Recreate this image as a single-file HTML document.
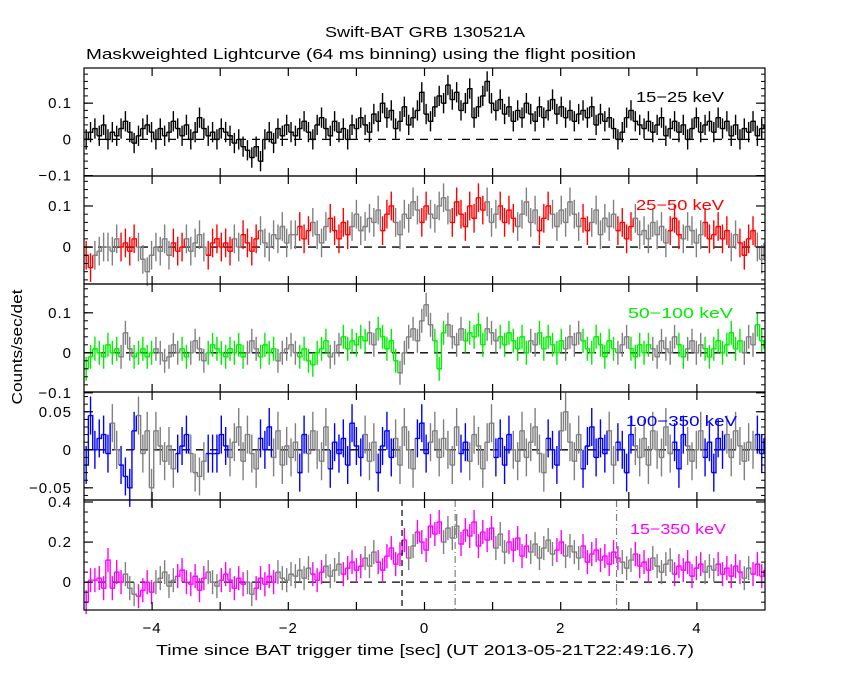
<!DOCTYPE html>
<html><head><meta charset="utf-8">
<style>
body{margin:0;background:#fff;}
svg text{font-family:"Liberation Sans","DejaVu Sans",sans-serif;}
</style></head>
<body>
<svg id="chart" width="850" height="680" viewBox="0 0 850 680" xmlns="http://www.w3.org/2000/svg">
<rect width="850" height="680" fill="#fff"/>
<text x="325" y="37" font-size="15" textLength="200" lengthAdjust="spacingAndGlyphs">Swift-BAT GRB 130521A</text>
<text x="86" y="59" font-size="15" textLength="550" lengthAdjust="spacingAndGlyphs">Maskweighted Lightcurve (64 ms binning) using the flight position</text>
<text x="156" y="655" font-size="15" textLength="538" lengthAdjust="spacingAndGlyphs">Time since BAT trigger time [sec] (UT 2013-05-21T22:49:16.7)</text>
<text x="0" y="0" font-size="15" text-anchor="middle" textLength="115" lengthAdjust="spacingAndGlyphs" transform="translate(22,347) rotate(-90)">Counts/sec/det</text>
<g id="plots"></g>
</svg>
<script>
const binStart = -5.0, binWidth = 0.064;
const bandNames = ["15-25 keV","25-50 keV","50-100 keV","100-350 keV","15-350 keV"];
const p1 = [0,2,3,1,4,0,2,1,3,5,2,-1,1,3,4,2, 0,3,1,2,5,3,1,4,0,2,6,3,1,2,0,3, 2,1,-1,0,-2,-3,-5,-2,-6,0,2,-1,3,1,4,2, 1,3,5,2,0,4,6,3,1,5,2,3,0,4,3,6, 4,2,7,5,10,6,8,3,5,9,4,6,8,13,7,5, 9,12,10,15,11,13,8,10,14,6,9,12,16,10,8,11, 7,9,5,8,6,10,7,5,9,6,8,11,7,9,6,8, 5,7,8,6,9,4,7,5,6,3,0,2,6,8,5,4, 3,5,2,4,6,1,3,5,2,4,0,3,6,2,4,5, 2,6,3,5,1,4,0,3,2,5,1,3,4,2,5,3].map(v=>v/100);
const p2 = [-2,-5,-2,-1,0,0,-1,2,0,1,-1,2,0,-3,-6,-2, 0,-1,2,-2,1,-1,0,2,-1,1,3,0,-2,1,2,0, 1,-1,2,0,3,1,-1,2,4,1,0,3,2,5,1,3, 3,5,2,4,6,3,1,5,7,4,2,6,3,5,8,4, 5,7,6,9,4,8,10,6,3,8,7,11,9,6,10,8, 7,10,12,9,6,11,8,5,10,7,12,9,11,6,8,10, 6,9,7,5,8,11,6,9,4,7,10,8,5,9,6,11, 8,5,7,4,6,9,3,7,5,8,4,6,2,5,7,3, 4,2,6,3,5,1,4,7,3,2,5,4,1,3,6,2, 3,5,2,4,0,3,1,-2,2,4,0,-3,1,-1,2,0].map(v=>v/100);
const p3 = [-4,-1,1,0,-1,2,0,1,-1,5,1,-1,0,1,-1,0, 1,0,-2,-1,2,0,1,-1,0,3,1,-2,0,2,1,0, -1,1,0,2,-1,0,3,1,-1,2,0,1,-2,0,1,2, 0,-1,1,-2,-3,0,1,3,-1,0,2,4,1,3,2,4, 3,5,2,6,4,1,3,-2,-5,0,4,6,3,8,12,7, 3,-4,5,7,4,2,6,3,5,4,7,2,6,5,3,4, 2,5,3,1,4,0,3,2,5,1,4,2,0,3,1,4, 2,5,3,1,0,4,2,-1,3,1,0,2,4,1,-1,2, 0,2,1,-1,3,1,0,4,2,-1,1,3,0,2,1,-1, 1,3,0,2,5,1,3,0,4,2,7,3,1,0,2,-1].map(v=>v/100);
const p4 = [-20,45,0,15,20,-5,35,0,-20,-35,-50,25,45,-5,25,-50, 25,5,-15,5,-25,-5,5,20,-5,-30,-35,-15,-5,-5,-5,20, 5,-10,10,30,-15,20,-5,-25,15,0,30,-10,25,-20,5,-10, 10,-30,20,-5,25,0,-15,30,-25,10,-5,15,-20,35,5,-10, 20,-15,10,-30,5,25,-10,15,-20,30,0,-25,15,35,-5,10, 25,-10,15,0,-20,30,-5,10,-15,20,5,-25,10,35,-10,15, -20,20,0,-15,25,-10,10,30,-5,-30,15,0,-20,25,50,10, -15,20,-25,5,30,-10,15,-5,25,-20,10,0,-30,20,5,-10, 15,-20,25,0,-10,30,-5,10,-25,20,5,-15,0,25,-10,10, -30,15,0,20,-10,25,5,-15,10,0,20,-5,15,5,-10,10].map(v=>v/1000);
const p5 = [-10,1,1,2,-3,11,-3,5,0,4,-3,-6,-7,-4,0,-5, 0,2,5,-2,1,3,6,0,-1,3,-4,2,5,0,-2,1, 4,1,-3,2,-1,0,-6,-3,2,-1,3,0,5,2,1,4, 3,6,2,7,4,1,5,8,3,6,9,4,7,10,6,8, 12,8,15,10,6,13,17,9,14,21,12,18,25,20,16,28, 24,30,20,27,22,28,19,26,23,30,18,25,21,27,17,24, 15,20,16,22,13,18,15,19,12,17,21,14,16,20,13,18, 15,12,18,10,14,16,11,13,9,15,12,10,7,11,14,8, 10,6,12,8,5,9,11,4,8,6,10,3,7,9,5,8, 6,9,4,7,3,8,5,2,7,4,9,3,6,8,2,5].map(v=>v/100);
const errs = [0.028,0.035,0.03,0.025,0.06];
const yTickVals = [[-0.1,0,0.1],[0,0.1],[-0.1,0,0.1],[-0.05,0,0.05],[0,0.2,0.4]];
const yTickLabels = [["\u22120.1","0","0.1"],["0","0.1"],["\u22120.1","0","0.1"],["\u22120.05","0","0.05"],["0","0.2","0.4"]];
const xTickVals = [-4,-2,0,2,4];
const xTickLabels = ["\u22124","\u22122","0","2","4"];
const markerTimes = [-0.33,0.45,2.82];
const series = [p1,p2,p3,p4,p5];

const X0=84, X1=765, tMin=-5, tMax=5;
const xs = t => X0 + (t-tMin)/(tMax-tMin)*(X1-X0);
const panels = [
 {top:68,bot:176,ymin:-0.101,ymax:0.197,color:"#000000",minor:0.02,lx:636,ly:102,lw:88},
 {top:176,bot:284,ymin:-0.09,ymax:0.173,color:"#ff0000",minor:0.02,lx:636,ly:210,lw:88},
 {top:284,bot:392,ymin:-0.098,ymax:0.172,color:"#00ee00",minor:0.02,lx:628,ly:318,lw:105},
 {top:392,bot:500,ymin:-0.066,ymax:0.076,color:"#0000ff",minor:0.01,lx:626,ly:426,lw:111},
 {top:500,bot:610,ymin:-0.139,ymax:0.41,color:"#ff00ff",minor:0.05,lx:630,ly:534,lw:96}
];
const NS="http://www.w3.org/2000/svg";
const root=document.getElementById("plots");
function mk(tag,attrs,parent){const e=document.createElementNS(NS,tag);for(const k in attrs)e.setAttribute(k,attrs[k]);(parent||root).appendChild(e);return e;}
const segLens=[5,3,7,2,6,4,8,3,5,6,2,4,9,3,4,5,7,3,6,2,5,8,3,4];
const defs=mk("defs",{});
const cp=mk("clipPath",{id:"clipx"},defs);
mk("rect",{x:X0,y:0,width:X1-X0,height:680},cp);

panels.forEach((p,i)=>{
  const ys=v=>p.bot-(v-p.ymin)/(p.ymax-p.ymin)*(p.bot-p.top);
  const g=mk("g",{});
  
  
  const data=series[i];
  const cg=mk("g",{"clip-path":"url(#clipx)"},g);
  const z=mk("line",{x1:X0,x2:X1,y1:ys(0),y2:ys(0),stroke:"#000","stroke-width":1.3,"stroke-dasharray":"8,6"},cg);
  
  
  let segIdx=i*3, cnt=0, useColor=true;
  const gray = i===0 ? "#000000" : "#808080";
  for(let k=0;k<data.length;k++){
    if(cnt>=segLens[segIdx%segLens.length]){cnt=0;segIdx++;useColor=!useColor;}
    cnt++;
    const col = useColor? p.color : gray;
    const t0=binStart+k*binWidth, t1=t0+binWidth, tc=t0+binWidth/2;
    const y=ys(data[k]);
    let d="M"+xs(t0)+","+y+" H"+xs(t1);
    if(k+1<data.length) d+=" V"+ys(data[k+1]);
    const s=mk("path",{d:d,stroke:col,"stroke-width":1.4,fill:"none"},cg);
    
    
    const e=mk("line",{x1:xs(tc),x2:xs(tc),y1:ys(data[k]-errs[i]),y2:ys(data[k]+errs[i]),stroke:col,"stroke-width":1.4},cg);
    
    
  }
  if(i===4){
    markerTimes.forEach((t,m)=>{
      const l=mk("line",{x1:xs(t),x2:xs(t),y1:p.top,y2:p.bot,stroke:m===0?"#000":"#808080","stroke-width":1.2,"stroke-dasharray":m===0?"6,4":"7,3,1,3"},g);
      
      
    });
  }
  const fr=mk("rect",{x:X0,y:p.top,width:X1-X0,height:p.bot-p.top,fill:"none",stroke:"#000","stroke-width":1.2},g);
  
  
  for(let t=-4;t<=4;t++){
    mk("line",{x1:xs(t),x2:xs(t),y1:p.top,y2:p.top+8,stroke:"#000","stroke-width":1.2},g);
    mk("line",{x1:xs(t),x2:xs(t),y1:p.bot,y2:p.bot-8,stroke:"#000","stroke-width":1.2},g);
  }
  const start=Math.ceil(p.ymin/p.minor);
  for(let n=start;n*p.minor<=p.ymax;n++){
    const v=n*p.minor, y=ys(v);
    mk("line",{x1:X0,x2:X0+4,y1:y,y2:y,stroke:"#000","stroke-width":1},g);
    mk("line",{x1:X1,x2:X1-4,y1:y,y2:y,stroke:"#000","stroke-width":1},g);
  }
  yTickVals[i].forEach((v,j)=>{
    const y=ys(v);
    mk("line",{x1:X0,x2:X0+9,y1:y,y2:y,stroke:"#000","stroke-width":1.2},g);
    mk("line",{x1:X1,x2:X1-9,y1:y,y2:y,stroke:"#000","stroke-width":1.2},g);
    const tx=mk("text",{x:X0-12,y:y+5,"font-size":15,"text-anchor":"end","letter-spacing":1},g);
    tx.textContent=yTickLabels[i][j];
    
    
  });
  const lb=mk("text",{x:p.lx,y:p.ly,"font-size":15,fill:p.color,textLength:p.lw,lengthAdjust:"spacingAndGlyphs"},g);
  lb.textContent=bandNames[i].replace("-","\u2212");
  
  
});
xTickVals.forEach((t,j)=>{
  const tx=mk("text",{x:xs(t),y:633,"font-size":15,"text-anchor":"middle","letter-spacing":1});
  tx.textContent=xTickLabels[j];
  
  
});
</script>
</body></html>
